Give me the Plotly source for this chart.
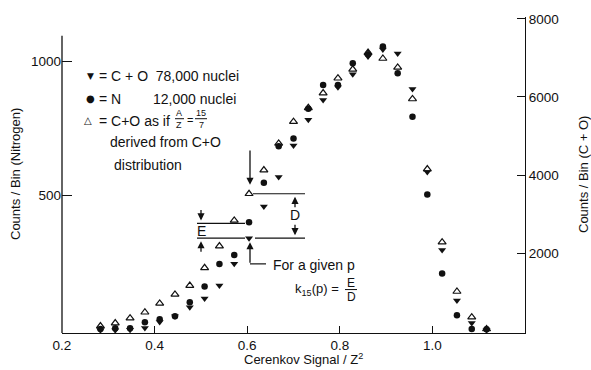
import plotly.graph_objects as go

# ---- data ----
x_signal = [0.283, 0.315, 0.347, 0.379, 0.411, 0.444, 0.476, 0.508, 0.540, 0.572,
            0.604, 0.636, 0.668, 0.700, 0.732, 0.764, 0.796, 0.828, 0.861, 0.893,
            0.925, 0.957, 0.989, 1.021, 1.053, 1.085, 1.117]
n_counts = [4, 7, 7, 29, 40, 51, 103, 162, 246, 279, 401, 548, 684, 713, 824,
            912, 912, 993, 1026, 1055, 956, 794, 504, 210, 55, 4, 3]
co_counts = [20, 20, 30, 76, 228, 380, 608, 835, 1165, 1722, 2380, 3190, 3949,
             4759, 5418, 5924, 6253, 6582, 7038, 7215, 7114, 6203, 4076, 2076,
             785, 203, 20]
co_as_15_7 = [127, 203, 329, 481, 709, 937, 1165, 1620, 2177, 2835, 3519, 4127,
              4810, 5367, 5722, 6101, 6481, 6709, 7139, 6987, 6759, 5949, 4152,
              2278, 1013, 354, 51]

x_ticks = [0.2, 0.4, 0.6, 0.8, 1.0]
x_ticktext = ["0.2", "0.4", "0.6", "0.8", "1.0"]
yl_ticks = [500, 1000]
yr_ticks = [2000, 4000, 6000, 8000]

FONT = "Liberation Sans, Arial, sans-serif"
INK = "#111111"

W, H = 591, 370
L, R, T, B = 62, 525, 13, 333


def px(x):
    return (x - L) / (R - L)


def py(y):
    return (B - y) / (B - T)


fig = go.Figure()
fig.add_trace(go.Scatter(x=x_signal, y=co_counts, mode="markers", yaxis="y2",
                         marker=dict(symbol="triangle-down", size=7, color=INK),
                         name="C+O"))
fig.add_trace(go.Scatter(x=x_signal, y=n_counts, mode="markers", yaxis="y",
                         marker=dict(symbol="circle", size=6.5, color=INK),
                         name="N"))
fig.add_trace(go.Scatter(x=x_signal, y=co_as_15_7, mode="markers", yaxis="y2",
                         marker=dict(symbol="triangle-up-open", size=7, color=INK,
                                     line=dict(width=1.2, color=INK)),
                         name="C+O as if A/Z=15/7"))

ann = []
shapes = []


def text(t, x, y, size=13, xa="left", ya="middle", angle=0, family=FONT):
    ann.append(dict(text=t, x=px(x), y=py(y), xref="paper", yref="paper",
                    showarrow=False, xanchor=xa, yanchor=ya, textangle=angle,
                    font=dict(family=family, size=size, color=INK)))


def line(x0, y0, x1, y1, w=1.2):
    shapes.append(dict(type="line", xref="paper", yref="paper",
                       x0=px(x0), y0=py(y0), x1=px(x1), y1=py(y1),
                       line=dict(color=INK, width=w)))


def arrow(xt, yt, xs, ys):
    ann.append(dict(text="", x=px(xt), y=py(yt), xref="paper", yref="paper",
                    ax=xs - xt, ay=ys - yt, axref="pixel", ayref="pixel",
                    showarrow=True, arrowhead=2, arrowsize=1.1, arrowwidth=1.3,
                    arrowcolor=INK))


# legend block
text("▼", 90, 73, size=9, xa="center", family="DejaVu Sans")
text("= C + O  78,000 nuclei", 97, 73, size=14)
text("●", 90, 96, size=10, xa="center", family="DejaVu Sans")
text("= N", 97, 96, size=14)
text("12,000 nuclei", 151, 96, size=14)
text("△", 88, 118, size=10, xa="center", family="DejaVu Sans")
text("= C+O as if", 97, 118, size=14)
text("A", 179, 110, size=9, xa="center")
text("Z", 179, 122, size=9, xa="center")
line(175, 116, 184, 116, 1)
text("=", 190, 117, size=11, xa="center")
text("15", 201, 110, size=9, xa="center")
text("7", 201, 122, size=9, xa="center")
line(195, 116, 207, 116, 1)
text("derived from C+O", 108, 140, size=14)
text("distribution", 112, 163, size=14)

# E / D construction
line(197, 222, 245, 222)
line(197, 237, 245, 237)
line(253, 192, 305, 192)
line(255, 237, 305, 237)
text("E", 201, 230, size=14, xa="center")
text("D", 295, 213, size=14, xa="center")
arrow(201, 219, 201, 207)
arrow(201, 240, 201, 252)
arrow(295, 195, 295, 207)
arrow(295, 234, 295, 222)
arrow(250, 183, 250, 147)
arrow(250, 241, 250, 263)
line(250, 263, 266, 263)
text("For a given p", 271, 264, size=14)
text("k<sub>15</sub>(p) =", 293, 289, size=13)
text("E", 351, 282, size=12, xa="center")
text("D", 351, 297, size=12, xa="center")
line(345, 289, 357, 289, 1)

# axis titles
text("Cerenkov Signal / Z<sup>2</sup>", 303, 359, xa="center")
text("Counts / Bin (Nitrogen)", 15, 172, xa="center", angle=-90)
text("Counts / Bin (C + O)", 583, 173, xa="center", angle=-90)

# left axis line (shorter than the plot height)
shapes.append(dict(type="line", xref="paper", yref="paper", x0=0, x1=0,
                   y0=0, y1=py(32), line=dict(color=INK, width=1.3)))

fig.update_layout(
    width=W, height=H,
    margin=dict(l=L, r=W - R, t=T, b=H - B, pad=0),
    paper_bgcolor="white", plot_bgcolor="white",
    showlegend=False,
    font=dict(family=FONT, size=13, color=INK),
    xaxis=dict(range=[0.2, 1.2], tickvals=x_ticks, ticktext=x_ticktext,
               ticks="inside", ticklen=7, tickwidth=1.2, tickcolor=INK,
               showline=True, linecolor=INK, linewidth=1.3, showgrid=False,
               zeroline=False, tickfont=dict(size=13.5)),
    yaxis=dict(range=[-11, 1165], tickvals=yl_ticks,
               ticks="inside", ticklen=10, tickwidth=1.2, tickcolor=INK,
               showline=False, showgrid=False, zeroline=False,
               tickfont=dict(size=13.5)),
    yaxis2=dict(range=[-51, 8051], tickvals=yr_ticks, overlaying="y",
                side="right", ticks="inside", ticklen=8, tickwidth=1.2,
                tickcolor=INK, showline=True, linecolor=INK, linewidth=1.3,
                showgrid=False, zeroline=False, tickfont=dict(size=13.5)),
    annotations=ann,
    shapes=shapes,
)

fig.write_html("out.html", config={"displayModeBar": False},
               post_script="document.body.style.margin='0';document.body.style.overflow='hidden';")
